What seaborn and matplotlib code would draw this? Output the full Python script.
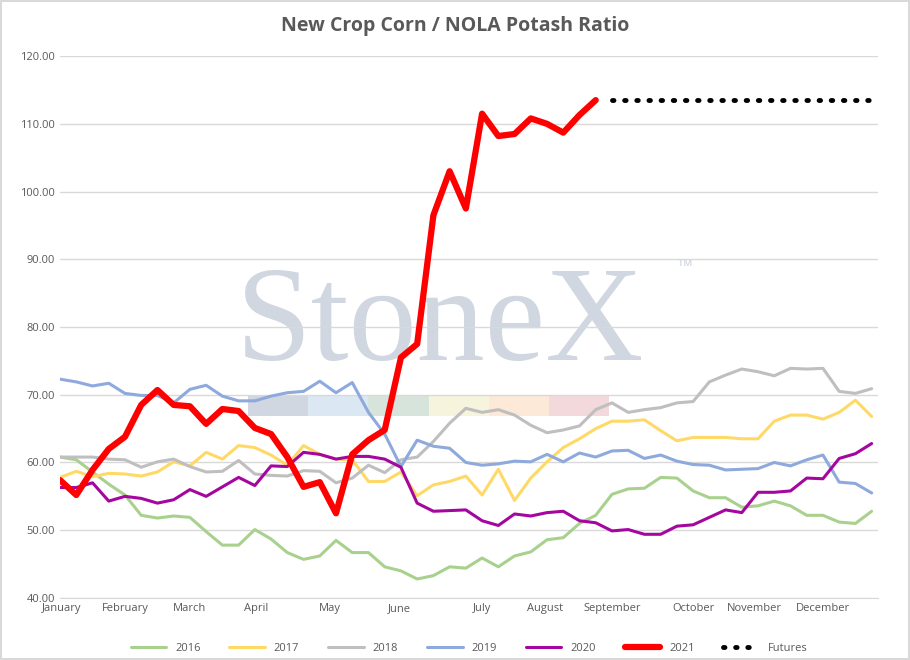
import numpy as np
import pandas as pd
import matplotlib
matplotlib.use('Agg')
import matplotlib.pyplot as plt
from matplotlib.patches import Rectangle
import seaborn as sns

# 每周数据
y2016 = [60.8, 60.4, 58.6, 56.8, 55.2, 52.2, 51.8, 52.1, 51.9, 49.8, 47.8, 47.8, 50.1, 48.7, 46.7, 45.7, 46.2, 48.5,
         46.7, 46.7, 44.6, 44.0, 42.8, 43.3, 44.6, 44.4, 45.9, 44.6, 46.2, 46.8, 48.6, 48.9, 51.0, 52.2,
         55.3, 56.1, 56.2, 57.8, 57.7, 55.8, 54.8, 54.8, 53.4, 53.6, 54.3, 53.6, 52.2, 52.2, 51.2, 51.0, 52.8]
y2017 = [57.8, 58.7, 57.9, 58.4, 58.3, 58.0, 58.6, 60.1, 59.5, 61.5, 60.5, 62.5, 62.2, 61.1, 59.6, 62.5, 61.2, 60.5,
         60.4, 57.2, 57.2, 58.6, 55.1, 56.7, 57.2, 58.0, 55.2, 59.0, 54.4, 57.7, 60.1, 62.2, 63.5, 65.0,
         66.1, 66.1, 66.3, 64.7, 63.2, 63.7, 63.7, 63.7, 63.5, 63.5, 66.1, 67.0, 67.0, 66.4, 67.4, 69.2, 66.8]
y2018 = [60.8, 60.8, 60.8, 60.5, 60.4, 59.3, 60.1, 60.5, 59.4, 58.6, 58.7, 60.3, 58.3, 58.1, 58.0, 58.8, 58.7, 57.0,
         57.7, 59.6, 58.5, 60.4, 60.8, 63.1, 65.8, 68.0, 67.4, 67.8, 67.0, 65.5, 64.4, 64.8, 65.4, 67.8,
         68.8, 67.4, 67.8, 68.1, 68.8, 69.0, 71.9, 72.9, 73.8, 73.4, 72.8, 73.9, 73.8, 73.9, 70.5, 70.2, 70.9]
y2019 = [72.3, 71.9, 71.3, 71.7, 70.2, 69.9, 69.9, 68.8, 70.8, 71.4, 69.8, 69.1, 69.1, 69.8, 70.3, 70.5, 72.0, 70.3,
         71.8, 67.4, 64.2, 59.4, 63.3, 62.4, 62.1, 60.0, 59.6, 59.8, 60.2, 60.1, 61.2, 60.1, 61.4, 60.8,
         61.7, 61.8, 60.6, 61.1, 60.2, 59.7, 59.6, 58.9, 59.0, 59.1, 60.0, 59.5, 60.4, 61.1, 57.1, 56.9, 55.5]
y2020 = [56.3, 56.3, 57.0, 54.3, 55.0, 54.7, 54.0, 54.5, 56.0, 55.0, 56.4, 57.8, 56.6, 59.5, 59.4, 61.5, 61.2, 60.5,
         60.9, 60.9, 60.5, 59.3, 54.0, 52.8, 52.9, 53.0, 51.4, 50.7, 52.4, 52.1, 52.6, 52.8, 51.4, 51.1,
         49.9, 50.1, 49.4, 49.4, 50.6, 50.8, 51.9, 53.0, 52.6, 55.6, 55.6, 55.8, 57.7, 57.6, 60.6, 61.3, 62.8]
y2021 = [57.4, 55.2, 58.9, 62.0, 63.8, 68.5, 70.7, 68.5, 68.3, 65.7, 67.9, 67.6, 65.1, 64.2, 60.8, 56.4, 57.1, 52.5,
         61.2, 63.3, 64.8, 75.5, 77.5, 96.5, 103.0, 97.5, 111.5, 108.2, 108.5, 110.8, 110.0, 108.7, 111.3, 113.5]
futures = [113.5] * 17  # 第34周起

months = ['January', 'February', 'March', 'April', 'May', 'June', 'July', 'August',
          'September', 'October', 'November', 'December']
month_pos = [0.1, 4, 8, 12.1, 16.6, 20.9, 26, 29.9, 34, 39, 42.8, 47]

series = {'2016': y2016, '2017': y2017, '2018': y2018, '2019': y2019, '2020': y2020, '2021': y2021}
colors = {'2016': '#A9D18E', '2017': '#FFD966', '2018': '#BFBFBF', '2019': '#8EA9DB',
          '2020': '#A5069F', '2021': '#FF0000'}

rows = []
for k, v in series.items():
    for i, val in enumerate(v):
        rows.append({'week': i, 'ratio': val, 'year': k})
df = pd.DataFrame(rows)

sns.set_style('white')
plt.rcParams['font.family'] = ['Open Sans', 'DejaVu Sans']

fig = plt.figure(figsize=(9.1, 6.6), dpi=100)
fig.patch.set_edgecolor('#D9D9D9')
fig.patch.set_linewidth(1.5)
ax = fig.add_axes([0.066, 0.094, 0.899, 0.821])

# 水印
ax.text(0.465, 0.50, 'StoneX', transform=ax.transAxes, fontsize=98, family='Liberation Serif',
        color='#D0D7E0', ha='center', va='center', zorder=0)
ax.text(0.755, 0.60, '™', transform=ax.transAxes, fontsize=14, color='#D0D7E0', zorder=0)
band = ['#C9D1DC', '#D5E3F0', '#CFE0D6', '#F6F3D9', '#FCE6D2', '#F2D3D6']
for j, c in enumerate(band):
    ax.add_patch(Rectangle((0.23 + j * 0.0735, 0.335), 0.0735, 0.037, transform=ax.transAxes,
                           color=c, alpha=0.85, zorder=0, lw=0))

for k in ['2016', '2017', '2018', '2019', '2020']:
    sns.lineplot(data=df[df.year == k], x='week', y='ratio', color=colors[k], lw=2.2, ax=ax, label=k, zorder=2)
sns.lineplot(data=df[df.year == '2021'], x='week', y='ratio', color=colors['2021'], lw=4.5, ax=ax,
             label='2021', zorder=3)
ax.plot(np.arange(34, 34 + len(futures)), futures, color='black', lw=3.5, ls=(0, (0.3, 2.2)),
        dash_capstyle='round', label='Futures', zorder=3)

ax.set_xlim(0, 50.4)
ax.set_ylim(40, 120)
ax.set_yticks(np.arange(40, 121, 10))
ax.set_yticklabels([f'{v:.2f}' for v in range(40, 121, 10)], fontsize=8, color='#595959')
ax.set_xticks(month_pos)
ax.set_xticklabels(months, fontsize=8, color='#595959')
ax.tick_params(length=0)
ax.grid(axis='y', color='#D9D9D9', lw=1)
ax.set_axisbelow(True)
for s in ['top', 'right', 'left']:
    ax.spines[s].set_visible(False)
ax.spines['bottom'].set_color('#D9D9D9')
ax.set_xlabel('')
ax.set_ylabel('')

fig.suptitle('New Crop Corn / NOLA Potash Ratio', fontsize=14, fontweight='bold', color='#595959', y=0.975)
ax.legend(loc='upper center', bbox_to_anchor=(0.5, -0.065), ncol=7, frameon=False, fontsize=8,
          handlelength=3.2, columnspacing=2.6, labelcolor='#595959')

fig.savefig('out.png', dpi=100, edgecolor=fig.get_edgecolor())
